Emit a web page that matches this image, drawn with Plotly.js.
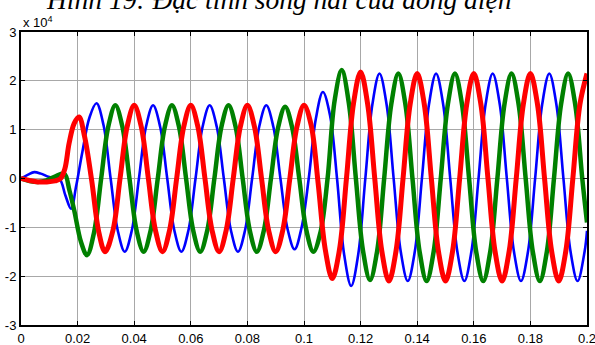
<!DOCTYPE html>
<html>
<head>
<meta charset="utf-8">
<script src="https://cdn.plot.ly/plotly-3.0.1.min.js"></script>
<style>html,body{margin:0;padding:0;background:#fff;}#chart{width:595px;height:345px;}</style>
</head>
<body>
<div id="chart"></div>
<script>
// Values in units of 10^4 (A), time in seconds
const titleText = "Hình 19: Đặc tính sóng hài của dòng điện";
const yTickVals = [-3, -2, -1, 0, 1, 2, 3];
const xTickVals = [0, 0.02, 0.04, 0.06, 0.08, 0.1, 0.12, 0.14, 0.16, 0.18, 0.2];
const xTickText = ["0", "0.02", "0.04", "0.06", "0.08", "0.1", "0.12", "0.14", "0.16", "0.18", "0.2"];

const blueT = [0, 0.0025, 0.0047, 0.007, 0.01, 0.0135, 0.0157, 0.0177, 0.0195, 0.0217, 0.0242,
  0.02667, 0.02917, 0.03167, 0.03417, 0.03667, 0.03917, 0.04167, 0.04417, 0.04667, 0.04917,
  0.05167, 0.05417, 0.05667, 0.05917, 0.06167, 0.06417, 0.06667, 0.06917, 0.07167, 0.07417,
  0.07667, 0.07917, 0.08167, 0.08417, 0.08667, 0.08917, 0.09167, 0.09417, 0.09667, 0.09917,
  0.10167, 0.10417, 0.10667, 0.10917, 0.11167, 0.11417, 0.11667, 0.11917, 0.12167, 0.12417,
  0.12667, 0.12917, 0.13167, 0.13417, 0.13667, 0.13917, 0.14167, 0.14417, 0.14667, 0.14917,
  0.15167, 0.15417, 0.15667, 0.15917, 0.16167, 0.16417, 0.16667, 0.16917, 0.17167, 0.17417,
  0.17667, 0.17917, 0.18167, 0.18417, 0.18667, 0.18917, 0.19167, 0.19417, 0.19667, 0.19917, 0.2];
const blueI = [0, 0.08, 0.13, 0.1, 0.03, 0, -0.35, -0.62, -0.15, 0.55, 1.25,
  1.54, 1.09, 0, -1.06, -1.5, -1.06, 0, 1.06, 1.5, 1.06,
  0, -1.06, -1.5, -1.06, 0, 1.06, 1.5, 1.06, 0, -1.06,
  -1.5, -1.06, 0, 1.06, 1.5, 1.06, 0, -1.03, -1.45, -1.0,
  0, 1.22, 1.77, 1.3, 0, -1.55, -2.2, -1.55, 0, 1.52,
  2.15, 1.52, 0, -1.49, -2.1, -1.49, 0, 1.52, 2.15, 1.52,
  0, -1.49, -2.1, -1.49, 0, 1.52, 2.15, 1.52, 0, -1.49,
  -2.1, -1.49, 0, 1.52, 2.15, 1.52, 0, -1.49, -2.1, -1.49, -1.07];

const greenT = [0, 0.003, 0.006, 0.009, 0.012, 0.0153, 0.0171, 0.0188, 0.0212,
  0.02333, 0.02583, 0.02833, 0.03083, 0.03333, 0.03583, 0.03833, 0.04083, 0.04333, 0.04583,
  0.04833, 0.05083, 0.05333, 0.05583, 0.05833, 0.06083, 0.06333, 0.06583, 0.06833, 0.07083,
  0.07333, 0.07583, 0.07833, 0.08083, 0.08333, 0.08583, 0.08833, 0.09083, 0.09333, 0.09583,
  0.09833, 0.10083, 0.10333, 0.10583, 0.10833, 0.11083, 0.11333, 0.11583, 0.11833, 0.12083,
  0.12333, 0.12583, 0.12833, 0.13083, 0.13333, 0.13583, 0.13833, 0.14083, 0.14333, 0.14583,
  0.14833, 0.15083, 0.15333, 0.15583, 0.15833, 0.16083, 0.16333, 0.16583, 0.16833, 0.17083,
  0.17333, 0.17583, 0.17833, 0.18083, 0.18333, 0.18583, 0.18833, 0.19083, 0.19333, 0.19583,
  0.19833, 0.2];
const greenI = [0, -0.05, -0.07, -0.04, 0.04, 0.1, -0.24, -0.65, -1.3,
  -1.57, -1.1, 0, 1.06, 1.5, 1.06, 0, -1.06, -1.5, -1.06,
  0, 1.06, 1.5, 1.06, 0, -1.06, -1.5, -1.06, 0, 1.06,
  1.5, 1.06, 0, -1.06, -1.5, -1.06, 0, 1.04, 1.47, 1.04,
  0, -1.06, -1.5, -1.1, 0, 1.6, 2.22, 1.55, 0, -1.47,
  -2.08, -1.49, 0, 1.52, 2.15, 1.52, 0, -1.49, -2.1, -1.49,
  0, 1.52, 2.15, 1.52, 0, -1.49, -2.1, -1.49, 0, 1.52,
  2.15, 1.52, 0, -1.49, -2.1, -1.49, 0, 1.52, 2.15, 1.52,
  0, -0.9];

const redT = [0, 0.003, 0.006, 0.009, 0.012, 0.014, 0.0155, 0.017, 0.0188, 0.0205, 0.0225, 0.025,
  0.0275, 0.0297, 0.0325, 0.035, 0.0375, 0.04, 0.0425, 0.045, 0.0475, 0.05, 0.0525, 0.055,
  0.0575, 0.06, 0.0625, 0.065, 0.0675, 0.07, 0.0725, 0.075, 0.0775, 0.08, 0.0825, 0.085,
  0.0875, 0.09, 0.0925, 0.095, 0.0975, 0.1, 0.1025, 0.105, 0.1075, 0.11, 0.1125, 0.115,
  0.1175, 0.12, 0.1225, 0.125, 0.1275, 0.13, 0.1325, 0.135, 0.1375, 0.14, 0.1425, 0.145,
  0.1475, 0.15, 0.1525, 0.155, 0.1575, 0.16, 0.1625, 0.165, 0.1675, 0.17, 0.1725, 0.175,
  0.1775, 0.18, 0.1825, 0.185, 0.1875, 0.19, 0.1925, 0.195, 0.1975, 0.2];
const redI = [0, -0.04, -0.07, -0.07, -0.05, 0, 0.2, 0.72, 1.13, 1.26, 0.85, -0.05,
  -1.1, -1.5, -1.06, 0, 1.06, 1.5, 1.06, 0, -1.06, -1.5, -1.06, 0,
  1.06, 1.5, 1.06, 0, -1.06, -1.5, -1.06, 0, 1.06, 1.5, 1.06, 0,
  -1.06, -1.5, -1.06, 0, 1.06, 1.5, 1.1, -0.1, -1.45, -2.05, -1.47, 0,
  1.54, 2.18, 1.52, 0, -1.49, -2.1, -1.49, 0, 1.52, 2.15, 1.52, 0,
  -1.49, -2.1, -1.49, 0, 1.52, 2.15, 1.52, 0, -1.49, -2.1, -1.49, 0,
  1.52, 2.15, 1.52, 0, -1.49, -2.1, -1.49, 0, 1.52, 2.15];

const tickFont = {family: "Liberation Sans Narrow, Arial Narrow, Liberation Sans, Arial", size: 13, color: "#000"};

const traces = [
  {x: blueT, y: blueI, mode: "lines", line: {color: "#0000ff", width: 2.6, shape: "spline", smoothing: 1}, hoverinfo: "skip"},
  {x: greenT, y: greenI, mode: "lines", line: {color: "#008000", width: 4.5, shape: "spline", smoothing: 1}, hoverinfo: "skip"},
  {x: redT, y: redI, mode: "lines", line: {color: "#ff0000", width: 5, shape: "spline", smoothing: 1}, hoverinfo: "skip"}
];

const axisCommon = {
  showline: true, linecolor: "#000", linewidth: 2, mirror: "ticks",
  ticks: "inside", ticklen: 4, tickcolor: "#000", tickwidth: 1,
  showgrid: true, gridcolor: "#a8a8a8", gridwidth: 1, zeroline: false,
  tickfont: tickFont, ticklabeloverflow: "allow"
};

const layout = {
  width: 595, height: 345,
  margin: {l: 21, r: 8, t: 32, b: 20, pad: 0},
  paper_bgcolor: "#fff", plot_bgcolor: "#fff",
  showlegend: false,
  xaxis: Object.assign({}, axisCommon, {range: [0, 0.2], tickvals: xTickVals, ticktext: xTickText}),
  yaxis: Object.assign({}, axisCommon, {range: [-3, 3], tickvals: yTickVals, ticktext: yTickVals.map(String)}),
  annotations: [
    {text: "<i>" + titleText + "</i>", xref: "paper", yref: "paper", x: 0.455, y: 1.052,
     xanchor: "center", yanchor: "bottom", showarrow: false,
     font: {family: "Liberation Serif, DejaVu Serif, serif", size: 27.5, color: "#000"}},
    {text: "x 10<sup>4</sup>", xref: "paper", yref: "paper", x: 0, y: 1.0,
     xanchor: "left", yanchor: "bottom", showarrow: false,
     font: tickFont}
  ]
};

Plotly.newPlot("chart", traces, layout, {displayModeBar: false, staticPlot: true});
</script>
</body>
</html>
